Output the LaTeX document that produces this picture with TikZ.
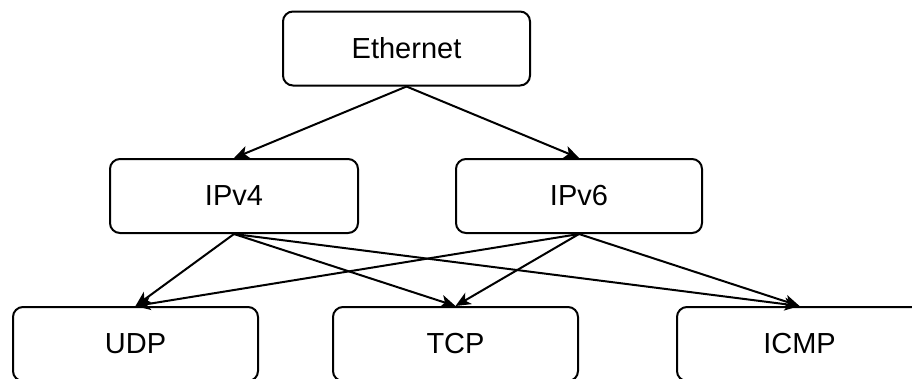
\documentclass[tikz,border=0pt]{standalone}
\usepackage{fontspec}
\setmainfont{Liberation Sans}
\usetikzlibrary{arrows.meta}
\begin{document}
\begin{tikzpicture}[x=1pt, y=-1pt, line join=round, line cap=round,
	>={Stealth[length=15pt,width=13pt,inset=4pt]},
	box/.style={draw, line width=2pt, rounded corners=10pt, minimum height=74pt,
		inner sep=0pt, font=\fontsize{29}{34}\selectfont},
	link/.style={->, line width=2pt}]
		\useasboundingbox (0,0) rectangle (912,378);
		\clip (0,0) rectangle (912,378);
		\node[box, minimum width=247pt] (eth) at (406.5,48.5) {Ethernet};
		\node[box, minimum width=248pt] (ipv4) at (234,196) {IPv4};
		\node[box, minimum width=246pt] (ipv6) at (579,196) {IPv6};
		\node[box, minimum width=245pt] (udp) at (135.5,344) {UDP};
		\node[box, minimum width=245pt] (tcp) at (455.5,344) {TCP};
		\node[box, minimum width=245pt] (icmp) at (799.5,344) {ICMP};
		\foreach \ip in {ipv4, ipv6}
		\draw[link] (eth.south) -- (\ip.north);
		\foreach \ip in {ipv4, ipv6}
		\foreach \tp in {udp, tcp, icmp}
		\draw[link] (\ip.south) -- (\tp.north);
	\end{tikzpicture}
\end{document}
